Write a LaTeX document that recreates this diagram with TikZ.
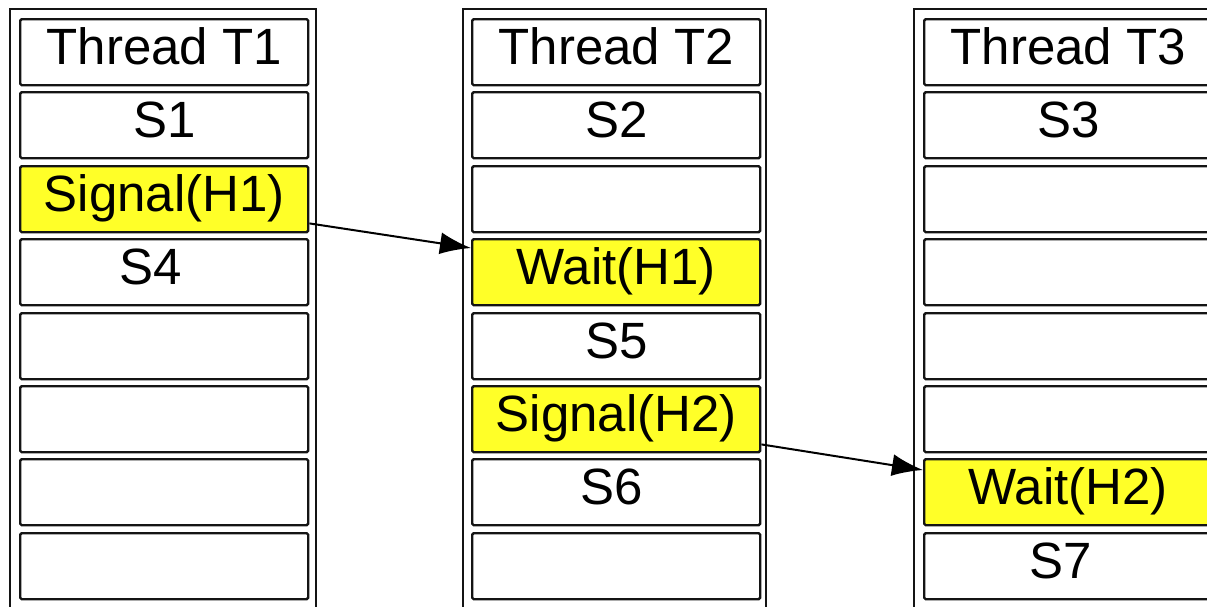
\documentclass[tikz,border=0pt]{standalone}
\usepackage{fontspec}
\setmainfont{Liberation Sans}
\usetikzlibrary{arrows.meta}
\definecolor{celly}{RGB}{255,255,40}
\definecolor{edge}{RGB}{20,20,20}
\tikzset{
  cell/.style={draw=edge, line width=2.4pt, rounded corners=1.5pt, minimum width=288pt, minimum height=66pt,
    inner sep=0pt, text height=34pt, text depth=10pt, font=\fontsize{51}{60}\selectfont, anchor=north west},
  sync/.style={cell, fill=celly},
  lane/.style={draw=edge, line width=2pt},
  flow/.style={draw=black, line width=2pt, -{Latex[length=31pt,width=22pt]}}
}
\newcommand{\padR}[1]{\rule{#1}{0pt}}
\begin{document}
\begin{tikzpicture}[x=1pt,y=-1pt]
\useasboundingbox (0,0) rectangle (1207,606);
% thread lanes
\draw[lane] (10,9) rectangle (316,620);
\draw[lane] (463,9) rectangle (766,620);
\draw[lane] (914,9) rectangle (1220,620);
% Thread T1
\node[cell] (h1) at (19,18) {Thread T1};
\node[cell] (a1) at (19,91) {S1};
\node[sync] (sig1) at (19,165) {Signal(H1)};
\node[cell] (a3) at (19,238) {S4\padR{28pt}};
\node[cell] (a4) at (19,312) {};
\node[cell] (a5) at (19,385) {};
\node[cell] (a6) at (19,458) {};
\node[cell] (a7) at (19,532) {};
% Thread T2
\node[cell] (h2) at (471,18) {Thread T2};
\node[cell] (b1) at (471,91) {S2};
\node[cell] (b2) at (471,165) {};
\node[sync] (wait1) at (471,238) {Wait(H1)};
\node[cell] (b4) at (471,312) {S5};
\node[sync] (sig2) at (471,385) {Signal(H2)};
\node[cell] (b6) at (471,458) {S6\padR{10pt}};
\node[cell] (b7) at (471,532) {};
% Thread T3
\node[cell] (h3) at (923,18) {Thread T3};
\node[cell] (c1) at (923,91) {S3};
\node[cell] (c2) at (923,165) {};
\node[cell] (c3) at (923,238) {};
\node[cell] (c4) at (923,312) {};
\node[cell] (c5) at (923,385) {};
\node[sync] (wait2) at (923,458) {Wait(H2)};
\node[cell] (c7) at (923,532) {S7\padR{16pt}};
% synchronisation arrows
\draw[flow] ([shift={(0,-10)}]sig1.south east) -- ([shift={(0,10)}]wait1.north west);
\draw[flow] ([shift={(0,-9)}]sig2.south east) -- ([shift={(0,12)}]wait2.north west);
\end{tikzpicture}
\end{document}
